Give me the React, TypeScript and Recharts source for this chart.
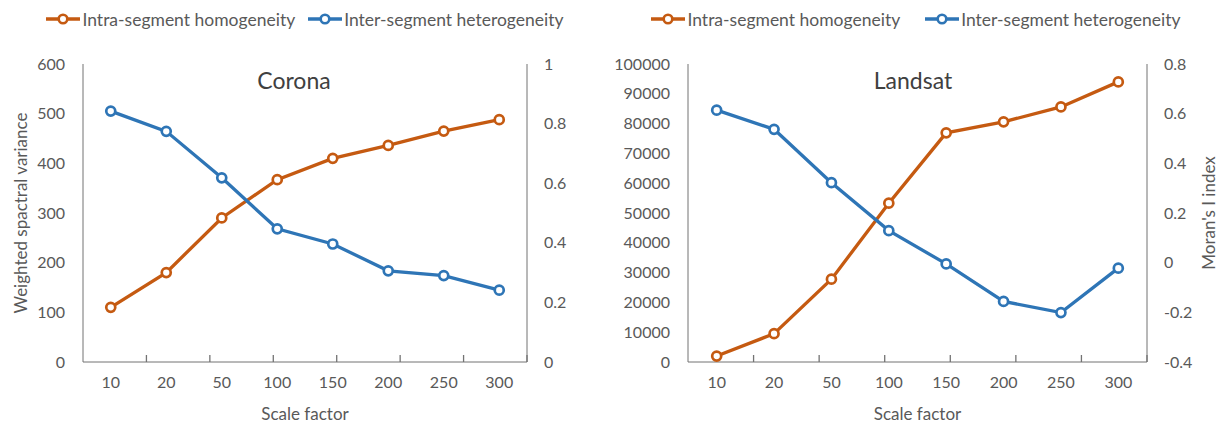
import { LineChart, Line, XAxis, YAxis, Legend, ReferenceArea } from 'recharts';

const categories = ['10', '20', '50', '100', '150', '200', '250', '300'];

const coronaIntra = [110, 180, 290, 367, 410, 436, 465, 488];
const coronaInter = [0.842, 0.774, 0.618, 0.447, 0.396, 0.306, 0.29, 0.241];

const landsatIntra = [2000, 9500, 27800, 53300, 76900, 80600, 85600, 94000];
const landsatInter = [0.614, 0.537, 0.322, 0.129, -0.005, -0.156, -0.201, -0.022];

const coronaLeftTicks = [0, 100, 200, 300, 400, 500, 600];
const coronaRightTicks = [0, 0.2, 0.4, 0.6, 0.8, 1];
const landsatLeftTicks = [0, 10000, 20000, 30000, 40000, 50000, 60000, 70000, 80000, 90000, 100000];
const landsatRightTicks = [-0.4, -0.2, 0, 0.2, 0.4, 0.6, 0.8];

const seriesNames = ['Intra-segment homogeneity', 'Inter-segment heterogeneity'];

// tick marks sit between categories, like Excel
const bandEdges = [1, 2, 3, 4, 5, 6, 7];

const ORANGE = '#C55A11';
const BLUE = '#2E75B6';
const AXIS = '#737373';
const TEXT = '#595959';
const FONT = 'Lato, "Open Sans", sans-serif';

const buildRows = (intra: number[], inter: number[]) =>
  categories.map((c, i) => ({ scale: c, intra: intra[i], inter: inter[i] }));

function LegendContent(props: any) {
  const items = [...(props.payload || [])].sort(
    (a: any, b: any) => seriesNames.indexOf(a.value) - seriesNames.indexOf(b.value)
  );
  return (
    <div
      style={{
        display: 'flex',
        justifyContent: 'center',
        alignItems: 'center',
        gap: props.gap,
        height: 22,
        fontSize: 17.5,
        color: TEXT,
        whiteSpace: 'nowrap',
      }}
    >
      {items.map((p: any) => (
        <div key={p.value} style={{ display: 'flex', alignItems: 'center' }}>
          <svg width={34} height={14}>
            <line x1={0} y1={7} x2={34} y2={7} stroke={p.color} strokeWidth={3.5} />
            <circle cx={17} cy={7} r={4.3} fill="#fff" stroke={p.color} strokeWidth={2.6} />
          </svg>
          <span style={{ marginLeft: 2 }}>{p.value}</span>
        </div>
      ))}
    </div>
  );
}

interface PanelProps {
  width: number;
  title: string;
  titleX: number;
  rows: { scale: string; intra: number; inter: number }[];
  leftTicks: number[];
  rightTicks: number[];
  leftLabel?: string;
  rightLabel?: string;
  margin: { top: number; right: number; bottom: number; left: number };
  leftWidth: number;
  rightWidth: number;
  legendGap: number;
}

function Panel(props: PanelProps) {
  const tickStyle = { fontSize: 16, fill: TEXT };
  const lo = props.leftTicks[0];
  const hi = props.leftTicks[props.leftTicks.length - 1];
  const dot = (color: string) => ({ r: 4.5, fill: '#fff', stroke: color, strokeWidth: 2.7 });
  return (
    <div style={{ position: 'relative', width: props.width, height: 428 }}>
      <LineChart
        width={props.width}
        height={428}
        data={props.rows}
        margin={props.margin}
        style={{ fontFamily: FONT }}
      >
        <Legend
          verticalAlign="top"
          wrapperStyle={{ top: 8, left: 0, width: props.width }}
          content={(p: any) => <LegendContent payload={p.payload} gap={props.legendGap} />}
        />
        <XAxis
          xAxisId="edges"
          type="number"
          domain={[0, 8]}
          allowDataOverflow
          ticks={bandEdges}
          interval={0}
          height={1}
          mirror
          tickFormatter={() => ''}
          tickSize={7}
          axisLine={false}
          tickLine={{ stroke: AXIS, strokeWidth: 1.3 }}
        />
        <XAxis
          xAxisId="cat"
          dataKey="scale"
          type="category"
          scale="band"
          height={58}
          interval={0}
          tickLine={false}
          tickSize={6}
          tickMargin={9}
          axisLine={{ stroke: AXIS }}
          tick={tickStyle}
          label={{ value: 'Scale factor', position: 'insideBottom', offset: 0, fontSize: 17, fill: TEXT }}
        />
        <YAxis
          yAxisId="left"
          width={props.leftWidth}
          domain={[lo, hi]}
          ticks={props.leftTicks}
          interval={0}
          tickLine={false}
          tickSize={6}
          tickMargin={12}
          axisLine={{ stroke: AXIS }}
          tick={tickStyle}
          label={
            props.leftLabel
              ? {
                  value: props.leftLabel,
                  angle: -90,
                  position: 'insideLeft',
                  offset: 11,
                  fontSize: 17,
                  fill: TEXT,
                  style: { textAnchor: 'middle' },
                }
              : undefined
          }
        />
        <YAxis
          yAxisId="right"
          orientation="right"
          width={props.rightWidth}
          domain={[props.rightTicks[0], props.rightTicks[props.rightTicks.length - 1]]}
          ticks={props.rightTicks}
          interval={0}
          tickLine={false}
          tickSize={6}
          tickMargin={11}
          axisLine={{ stroke: AXIS }}
          tick={tickStyle}
          label={
            props.rightLabel
              ? {
                  value: props.rightLabel,
                  angle: -90,
                  position: 'insideRight',
                  offset: 8,
                  fontSize: 17,
                  fill: TEXT,
                  style: { textAnchor: 'middle' },
                }
              : undefined
          }
        />
        <ReferenceArea
          xAxisId="edges"
          yAxisId="left"
          x1={0}
          x2={8}
          y1={lo}
          y2={hi}
          fill="none"
          stroke={AXIS}
          strokeWidth={1.3}
        />
        <Line
          xAxisId="cat"
          yAxisId="left"
          dataKey="intra"
          name={seriesNames[0]}
          stroke={ORANGE}
          strokeWidth={3.3}
          dot={dot(ORANGE)}
          activeDot={false}
          isAnimationActive={false}
        />
        <Line
          xAxisId="cat"
          yAxisId="right"
          dataKey="inter"
          name={seriesNames[1]}
          stroke={BLUE}
          strokeWidth={3.3}
          dot={dot(BLUE)}
          activeDot={false}
          isAnimationActive={false}
        />
      </LineChart>
      <div
        style={{
          position: 'absolute',
          top: 66,
          left: props.titleX - 100,
          width: 200,
          textAlign: 'center',
          fontFamily: FONT,
          fontSize: 23,
          color: '#404040',
          lineHeight: '28px',
        }}
      >
        {props.title}
      </div>
    </div>
  );
}

export default function App() {
  return (
    <div
      style={{
        position: 'absolute',
        left: 0,
        top: 0,
        width: 1222,
        height: 428,
        background: '#fff',
        display: 'flex',
        fontFamily: FONT,
      }}
    >
      <Panel
        width={610}
        title="Corona"
        titleX={294}
        rows={buildRows(coronaIntra, coronaInter)}
        leftTicks={coronaLeftTicks}
        rightTicks={coronaRightTicks}
        leftLabel="Weighted spactral variance"
        margin={{ top: 42, right: 23, bottom: 8, left: 10 }}
        leftWidth={73}
        rightWidth={60}
        legendGap={13}
      />
      <Panel
        width={612}
        title="Landsat"
        titleX={303}
        rows={buildRows(landsatIntra, landsatInter)}
        leftTicks={landsatLeftTicks}
        rightTicks={landsatRightTicks}
        rightLabel="Moran's I index"
        margin={{ top: 42, right: 5, bottom: 8, left: 5 }}
        leftWidth={73}
        rightWidth={70}
        legendGap={25}
      />
    </div>
  );
}
